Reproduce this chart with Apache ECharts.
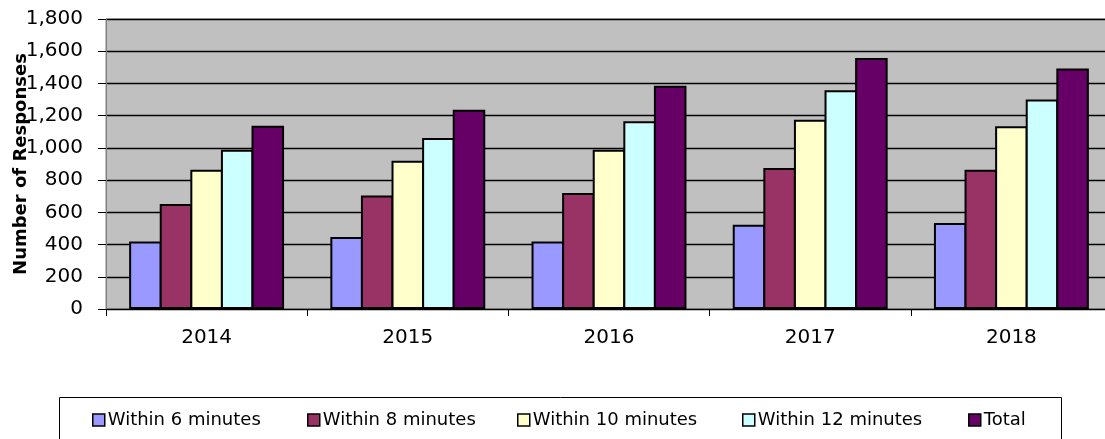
<!DOCTYPE html>
<html>
<head>
<meta charset="utf-8">
<script src="https://cdn.jsdelivr.net/npm/echarts@6/dist/echarts.min.js"></script>
<style>html,body{margin:0;padding:0;background:#fff}#c{width:1105px;height:439px}</style>
</head>
<body>
<div id="c"></div>
<script>
const categories = ['2014', '2015', '2016', '2017', '2018'];
const seriesNames = ['Within 6 minutes', 'Within 8 minutes', 'Within 10 minutes', 'Within 12 minutes', 'Total'];
const within6 = [419, 447, 419, 523, 534];
const within8 = [652, 705, 720, 875, 865];
const within10 = [865, 920, 989, 1175, 1134];
const within12 = [989, 1062, 1165, 1357, 1300];
const total = [1138, 1237, 1386, 1558, 1492];
const colors = ['#9999FF', '#993366', '#FFFFCC', '#CCFFFF', '#660066'];
const yTicks = { min: 0, max: 1800, interval: 200 };
const yTitle = 'Number of Responses';

const dataSets = [within6, within8, within10, within12, total];
const FONT = '"DejaVu Sans", sans-serif';
const legendLefts = [92, 307, 517, 742, 968];

const chart = echarts.init(document.getElementById('c'), null, { renderer: 'canvas' });
chart.setOption({
  animation: false,
  backgroundColor: '#ffffff',
  grid: {
    left: 106, top: 19, right: -7, bottom: 130,
    outerBoundsMode: 'none', containLabel: false,
    show: true, backgroundColor: '#C0C0C0', borderColor: '#808080', borderWidth: 1
  },
  legend: seriesNames.map((n, i) => ({
    left: legendLefts[i], top: 411, padding: 0,
    itemWidth: 12, itemHeight: 12, itemGap: 0,
    icon: 'rect',
    textStyle: { fontFamily: FONT, fontSize: 18, color: '#000', padding: [0, 0, 0, -2] },
    data: [{ name: n, itemStyle: { color: colors[i], borderColor: '#000', borderWidth: 1.5 } }]
  })),
  graphic: [{
    type: 'rect', left: 57, top: 395, silent: true,
    shape: { width: 1002, height: 60 },
    style: { fill: 'none', stroke: '#000', lineWidth: 1 }
  }],
  xAxis: {
    type: 'category', data: categories,
    axisLine: { lineStyle: { color: '#000', width: 1 } },
    axisTick: { show: true, length: 7, lineStyle: { color: '#000' } },
    axisLabel: { fontFamily: FONT, fontSize: 20, color: '#000', margin: 19 }
  },
  yAxis: {
    type: 'value', min: yTicks.min, max: yTicks.max, interval: yTicks.interval,
    name: yTitle, nameLocation: 'middle', nameGap: 76, nameMoveOverlap: false,
    nameTextStyle: { fontFamily: FONT, fontSize: 18, fontWeight: 'bold', color: '#000' },
    axisLine: { show: true, lineStyle: { color: '#808080', width: 1 } },
    axisTick: { show: true, length: 8, lineStyle: { color: '#000' } },
    splitLine: { lineStyle: { color: '#000', width: 1.3 } },
    axisLabel: {
      fontFamily: FONT, fontSize: 20, color: '#000', margin: 23,
      formatter: v => v.toLocaleString('en-US')
    }
  },
  series: dataSets.map((d, i) => ({
    name: seriesNames[i], type: 'bar', data: d,
    barGap: '-6%', barCategoryGap: '23%',
    itemStyle: { color: colors[i], borderColor: '#000', borderWidth: 2 }
  }))
});
</script>
</body>
</html>
